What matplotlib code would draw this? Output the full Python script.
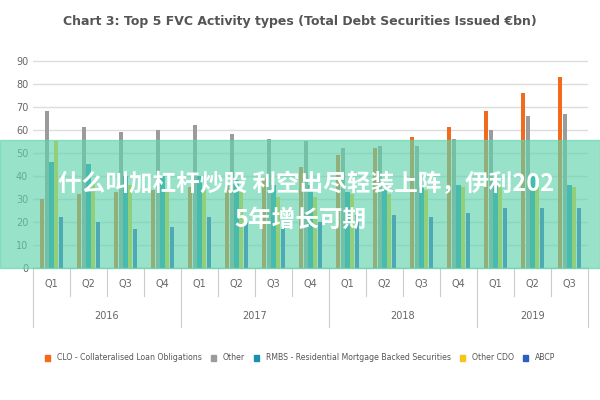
import numpy as np
import matplotlib.pyplot as plt
from matplotlib.patches import Rectangle

quarters = ["Q1", "Q2", "Q3", "Q4"] * 3 + ["Q1", "Q2", "Q3"]
years = ["2016", "2017", "2018", "2019"]
series_names = ["CLO - Collateralised Loan Obligations", "Other",
                "RMBS - Residential Mortgage Backed Securities", "Other CDO", "ABCP"]
clo = [30, 32, 33, 34, 35, 36, 39, 44, 49, 52, 57, 61, 68, 76, 83]
other = [68, 61, 59, 60, 62, 58, 56, 55, 52, 53, 53, 56, 60, 66, 67]
rmbs = [46, 45, 40, 40, 40, 38, 36, 36, 33, 34, 35, 36, 36, 41, 36]
other_cdo = [55, 37, 36, 34, 34, 33, 31, 31, 32, 32, 34, 35, 35, 35, 35]
abcp = [22, 20, 17, 18, 22, 21, 18, 20, 23, 23, 22, 24, 26, 26, 26]
colors = ["#f26a1b", "#9b9b9b", "#1b8fb0", "#f5c518", "#2c5fc4"]

fig = plt.figure(figsize=(6, 4), dpi=100)
ax = fig.add_axes([0.055, 0.33, 0.925, 0.53])
x = np.arange(len(quarters))
w = 0.13
for i, (vals, c) in enumerate(zip([clo, other, rmbs, other_cdo, abcp], colors)):
    ax.bar(x + (i - 2) * w, vals, w * 0.85, color=c)
ax.set_ylim(0, 92)
ax.set_xlim(-0.5, len(quarters) - 0.5)
ax.set_yticks(range(0, 91, 10))
ax.tick_params(axis="y", labelsize=7, colors="#666666", length=0)
ax.yaxis.grid(True, color="#dddddd", lw=1)
ax.set_axisbelow(True)
for s in ["top", "right", "left"]:
    ax.spines[s].set_visible(False)
ax.spines["bottom"].set_color("#cccccc")
ax.set_xticks(x)
ax.set_xticklabels(quarters, fontsize=7, color="#666666")
ax.tick_params(axis="x", length=0, pad=8)
# group separators and year labels
for b in np.arange(-0.5, len(quarters), 1):
    ax.plot([b, b], [0, -0.13], transform=ax.get_xaxis_transform(), color="#cccccc", lw=0.8, clip_on=False)
starts = [0, 4, 8, 12]
ends = [4, 8, 12, 15]
for yr, s, e in zip(years, starts, ends):
    ax.plot([s - 0.5, s - 0.5], [-0.13, -0.28], transform=ax.get_xaxis_transform(), color="#cccccc", lw=0.8, clip_on=False)
    ax.text((s + e - 1) / 2, -0.24, yr, transform=ax.get_xaxis_transform(), ha="center", fontsize=7, color="#666666")
ax.plot([14.5, 14.5], [-0.13, -0.28], transform=ax.get_xaxis_transform(), color="#cccccc", lw=0.8, clip_on=False)

fig.text(0.5, 0.945, "Chart 3: Top 5 FVC Activity types (Total Debt Securities Issued €bn)",
         ha="center", va="center", fontsize=9, fontweight="bold", color="#555555")
handles = [Rectangle((0, 0), 1, 1, color=c) for c in colors]
fig.legend(handles, series_names, loc="center", bbox_to_anchor=(0.5, 0.105), ncol=5,
           fontsize=5.6, frameon=False, handlelength=0.7, handleheight=0.7, columnspacing=1.2,
           labelcolor="#555555")

# overlay banner
fig.patches.append(Rectangle((0, 0.33), 1, 0.32, transform=fig.transFigure,
                             color="#5fd3ad", alpha=0.65, zorder=5))
fig.text(0.51, 0.54, "什么叫加杠杆炒股 利空出尽轻装上阵，伊利202", ha="center", va="center",
         fontsize=17, fontweight="bold", color="white", family="Noto Sans CJK SC", zorder=6)
fig.text(0.5, 0.45, "5年增长可期", ha="center", va="center",
         fontsize=17, fontweight="bold", color="white", family="Noto Sans CJK SC", zorder=6)

fig.savefig("out.png", dpi=100)
